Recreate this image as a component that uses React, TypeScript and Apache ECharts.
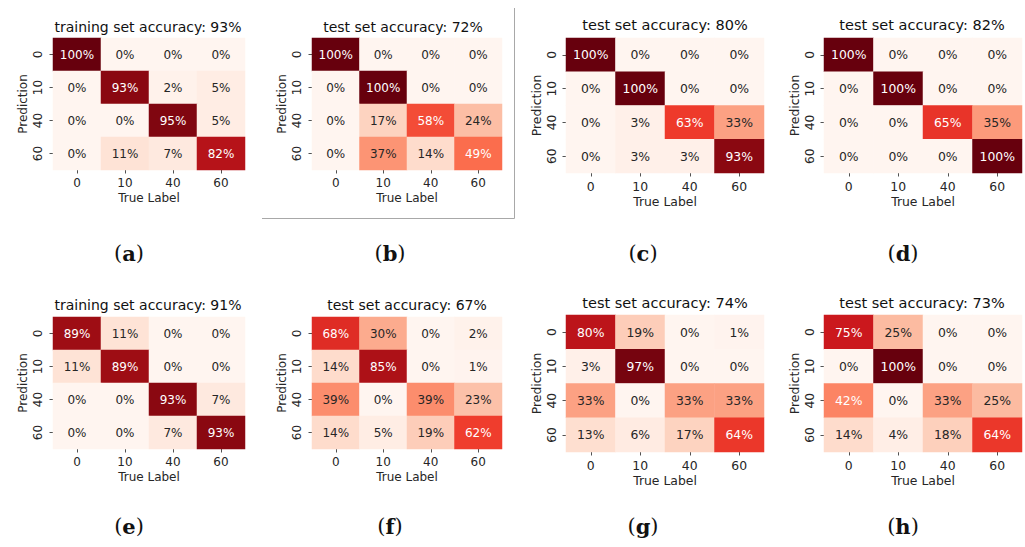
import React, { useEffect, useRef } from "react";
import * as echarts from "echarts";

// Class labels shared by both axes (true label on x, prediction on y)
const CLASS_LABELS = ["0", "10", "40", "60"];

// Confusion matrices in percent: rows = prediction, columns = true label
const MATRIX_A = [
  [100, 0, 0, 0],
  [0, 93, 2, 5],
  [0, 0, 95, 5],
  [0, 11, 7, 82],
];
const MATRIX_B = [
  [100, 0, 0, 0],
  [0, 100, 0, 0],
  [0, 17, 58, 24],
  [0, 37, 14, 49],
];
const MATRIX_C = [
  [100, 0, 0, 0],
  [0, 100, 0, 0],
  [0, 3, 63, 33],
  [0, 3, 3, 93],
];
const MATRIX_D = [
  [100, 0, 0, 0],
  [0, 100, 0, 0],
  [0, 0, 65, 35],
  [0, 0, 0, 100],
];
const MATRIX_E = [
  [89, 11, 0, 0],
  [11, 89, 0, 0],
  [0, 0, 93, 7],
  [0, 0, 7, 93],
];
const MATRIX_F = [
  [68, 30, 0, 2],
  [14, 85, 0, 1],
  [39, 0, 39, 23],
  [14, 5, 19, 62],
];
const MATRIX_G = [
  [80, 19, 0, 1],
  [3, 97, 0, 0],
  [33, 0, 33, 33],
  [13, 6, 17, 64],
];
const MATRIX_H = [
  [75, 25, 0, 0],
  [0, 100, 0, 0],
  [42, 0, 33, 25],
  [14, 4, 18, 64],
];

const TITLES = [
  "training set accuracy: 93%",
  "test set accuracy: 72%",
  "test set accuracy: 80%",
  "test set accuracy: 82%",
  "training set accuracy: 91%",
  "test set accuracy: 67%",
  "test set accuracy: 74%",
  "test set accuracy: 73%",
];
const CAPTIONS = ["a", "b", "c", "d", "e", "f", "g", "h"];
const MATRICES = [MATRIX_A, MATRIX_B, MATRIX_C, MATRIX_D, MATRIX_E, MATRIX_F, MATRIX_G, MATRIX_H];

// Matplotlib "Reds" colormap stops
const REDS = [
  "#fff5f0", "#fee0d2", "#fcbba1", "#fc9272", "#fb6a4a",
  "#ef3b2c", "#cb181d", "#a50f15", "#67000d",
];

// Panel geometry: [left, top, right, bottom] of each heatmap, plus title / caption anchors
const BOXES = [
  [53, 38, 245, 170],
  [312, 38, 502, 170],
  [566, 38, 764, 173],
  [824, 38, 1022, 173],
  [53, 317, 245, 449],
  [312, 317, 502, 449],
  [566, 315, 764, 452],
  [824, 315, 1022, 452],
];
const TITLE_POS = [
  [148, 27], [403, 27], [665, 25], [922, 25],
  [148, 305], [407, 305], [665, 303], [922, 303],
];
const CAPTION_POS = [
  [129, 253], [390, 253], [643, 253], [903, 253],
  [129, 526], [390, 526], [643, 526], [903, 526],
];

const FONT = "DejaVu Sans";
const INK = "#262626";

export default function App() {
  const ref = useRef<HTMLDivElement>(null);

  useEffect(() => {
    if (!ref.current) return;
    const chart = echarts.init(ref.current, null, { renderer: "svg" });

    const grids: any[] = [];
    const xAxes: any[] = [];
    const yAxes: any[] = [];
    const series: any[] = [];
    const graphics: any[] = [];

    MATRICES.forEach((m, i) => {
      const [l, t, r, b] = BOXES[i];
      const big = i % 4 >= 2;
      const fs = big ? 12.4 : 12;
      grids.push({ left: l, top: t, width: r - l, height: b - t, containLabel: false });
      const tick = { show: true, alignWithLabel: true, length: 3.5, lineStyle: { color: INK, width: 0.8 } };
      xAxes.push({
        type: "category",
        gridIndex: i,
        data: CLASS_LABELS,
        axisLine: { show: false },
        axisTick: tick,
        splitLine: { show: false },
        axisLabel: { margin: 7, fontSize: fs, color: INK, fontFamily: FONT },
        name: "True Label",
        nameLocation: "middle",
        nameGap: 22,
        nameTextStyle: { fontSize: fs, color: INK, fontFamily: FONT },
      });
      yAxes.push({
        type: "category",
        gridIndex: i,
        data: CLASS_LABELS,
        inverse: true,
        axisLine: { show: false },
        axisTick: tick,
        splitLine: { show: false },
        axisLabel: { margin: 9, rotate: 90, fontSize: fs, color: INK, fontFamily: FONT },
        name: "Prediction",
        nameLocation: "middle",
        nameGap: 24,
        nameTextStyle: { fontSize: fs, color: INK, fontFamily: FONT },
      });
      const data: any[] = [];
      m.forEach((row, yi) =>
        row.forEach((v, xi) => {
          data.push({
            value: [xi, yi, v],
            label: { color: v >= 40 ? "#ffffff" : INK },
          });
        })
      );
      series.push({
        type: "heatmap",
        xAxisIndex: i,
        yAxisIndex: i,
        data,
        label: {
          show: true,
          fontSize: fs,
          fontFamily: FONT,
          formatter: (p: any) => p.value[2] + "%",
        },
        itemStyle: { borderWidth: 0 },
        emphasis: { disabled: true },
      });

      const [tx, ty] = TITLE_POS[i];
      graphics.push({
        type: "text",
        x: tx,
        y: ty,
        style: {
          text: TITLES[i],
          fontSize: big ? 14.5 : 14,
          fontFamily: FONT,
          fill: "#111",
          textAlign: "center",
          textVerticalAlign: "middle",
        },
      });
      const [cx, cy] = CAPTION_POS[i];
      graphics.push({
        type: "text",
        x: cx,
        y: cy,
        style: {
          text: "{p|(}{b|" + CAPTIONS[i] + "}{p|)}",
          textAlign: "center",
          textVerticalAlign: "middle",
          rich: {
            p: { fontSize: 21, fontFamily: "DejaVu Serif", fill: "#111" },
            b: { fontSize: 21, fontFamily: "DejaVu Serif", fontWeight: "bold", fill: "#111" },
          },
        },
      });
    });

    // Frame drawn around panel (b)
    graphics.push({
      type: "polyline",
      shape: { points: [[514.5, 8], [514.5, 218.5], [262, 218.5]] },
      style: { stroke: "#a8a8a8", lineWidth: 1, fill: "none" },
    });

    chart.setOption({
      animation: false,
      backgroundColor: "#ffffff",
      grid: grids,
      xAxis: xAxes,
      yAxis: yAxes,
      visualMap: {
        show: false,
        type: "continuous",
        min: 0,
        max: 100,
        seriesIndex: series.map((_, k) => k),
        inRange: { color: REDS },
      },
      series,
      graphic: graphics,
    });

    return () => chart.dispose();
  }, []);

  return (
    <div
      ref={ref}
      style={{ position: "absolute", left: 0, top: 0, width: 1025, height: 547 }}
    />
  );
}
